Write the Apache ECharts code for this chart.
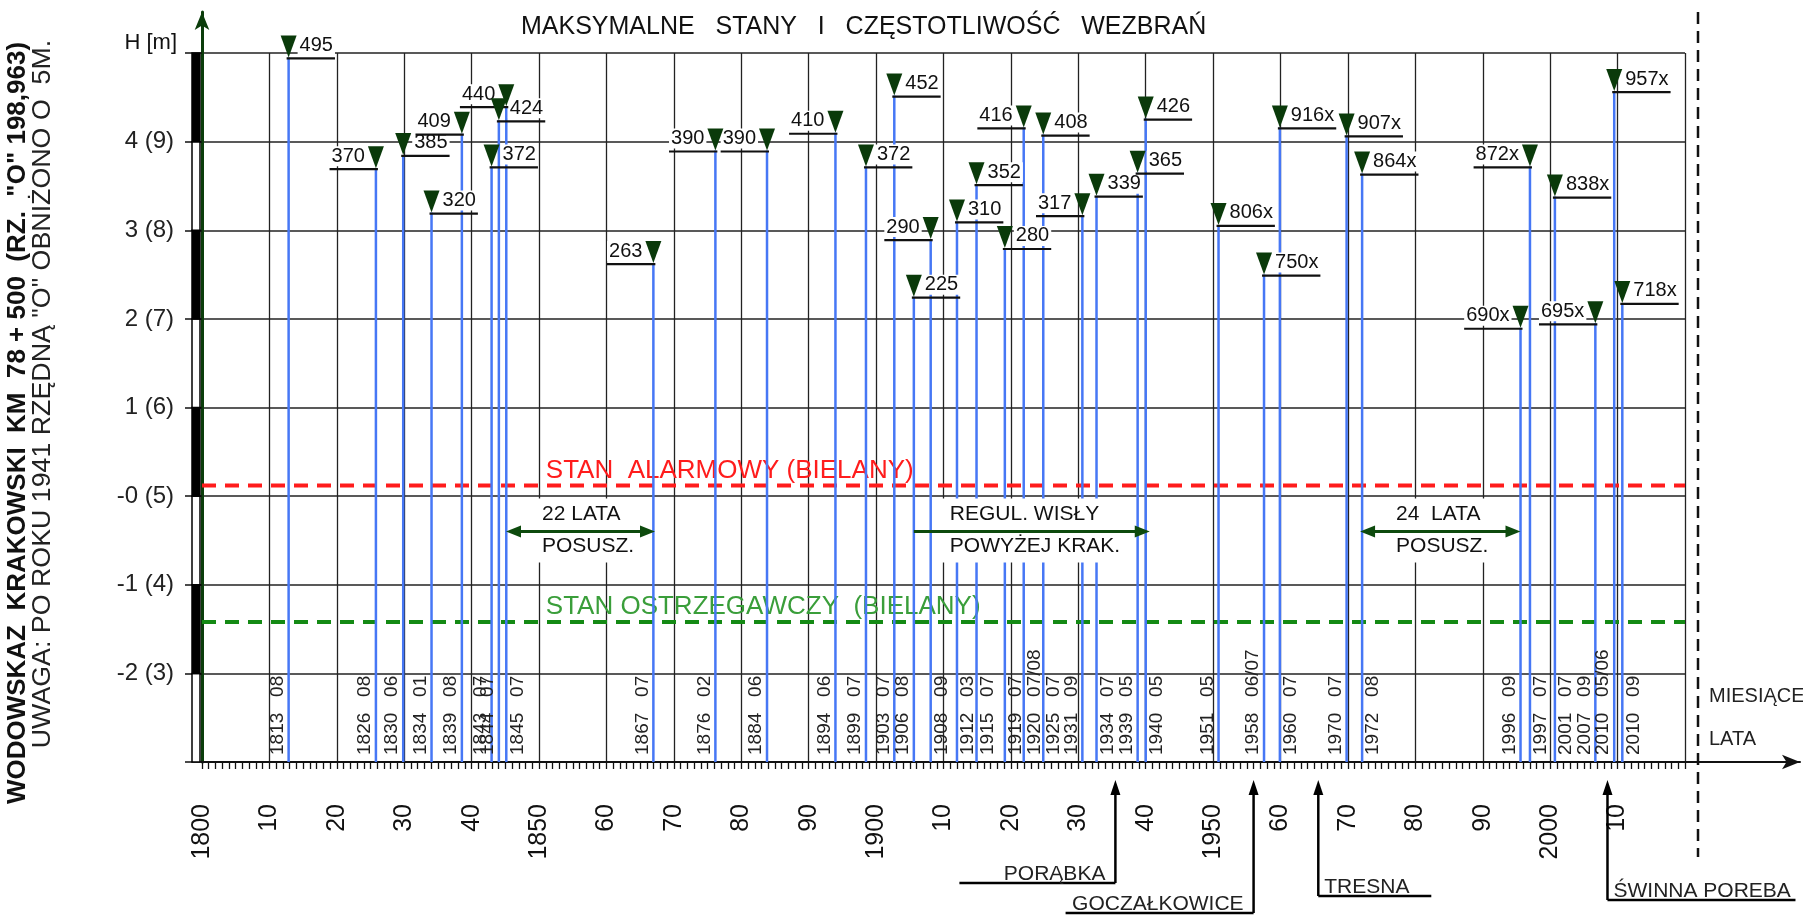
<!DOCTYPE html>
<html>
<head>
<meta charset="utf-8">
<title>Maksymalne stany i częstotliwość wezbrań</title>
<script src="https://cdn.jsdelivr.net/npm/echarts@6/dist/echarts.min.js"></script>
<style>
html, body { margin: 0; padding: 0; background: #fff; }
#chart { width: 1803px; height: 915px; }
</style>
</head>
<body>
<div id="chart"></div>
<script>
// wezbrania: rok, miesiac, stan na wodowskazie [cm]
const years = [1813, 1826, 1830, 1834, 1839, 1843, 1844, 1845, 1867, 1876, 1884, 1894, 1899, 1903, 1906, 1908, 1912, 1915,
  1919, 1920, 1925, 1931, 1934, 1939, 1940, 1951, 1958, 1960, 1970, 1972, 1996, 1997, 2001, 2007, 2010, 2010]
const months = ['08', '08', '06', '01', '08', '07', '07', '07', '07', '02', '06', '06', '07', '07', '08', '09', '03', '07',
  '07', '07/08', '07', '09', '07', '05', '05', '05', '06/07', '07', '07', '08', '09', '07', '07', '09', '05/06', '09']
const stanCm = [495, 370, 385, 320, 409, 372, 424, 440, 263, 390, 390, 410, 372, 452, 225, 290, 310, 352,
  280, 416, 408, 317, 339, 365, 426, 806, 750, 916, 907, 864, 690, 872, 838, 695, 957, 718]
// polozenie linii na osi lat
const linePos = [1812.85, 1825.8, 1829.85, 1834.05, 1838.55, 1842.96, 1844.04, 1845.14, 1866.96, 1876.16, 1883.82, 1893.97,
  1898.5, 1902.7, 1905.6, 1908.1, 1912.0, 1914.9, 1919.1, 1921.9, 1924.8, 1930.6, 1932.7, 1938.8, 1940.0, 1950.8,
  1957.55, 1959.9, 1969.8, 1972.1, 1995.6, 1997.0, 2000.7, 2006.7, 2009.5, 2010.7]
// po 1941 zero wodowskazu obnizono o 5 m
const zeroShiftYear = 1941
const zeroShiftCm = 500

// strona opisu: L - lewa, R - prawa
const valueSide = 'RLRRLRRLLLLLRRRLRRRLRLRRRRRRRRLLRLRR'
const dateSide = 'LLLLLLLRLLLLLLLRRRRRRLRLRLLRLRLRRLLR'

const alertLevels = [0.12, -1.42]
const alertNames = ['STAN  ALARMOWY (BIELANY)', 'STAN OSTRZEGAWCZY  (BIELANY)']
const alertColors = ['#ff1c1c', '#148a14']
const alertTextColors = ['#ff1c1c', '#3a9e3a']

const spanFrom = [1845.1, 1905.6, 1971.8]
const spanTo = [1867.2, 1940.6, 1995.6]
const spanLevel = -0.4
const spanTop = ['22 LATA', 'REGUL. WISŁY', '24  LATA']
const spanBottom = ['POSUSZ.', 'POWYŻEJ KRAK.', 'POSUSZ.']
const spanBothHeads = [true, false, true]

const damNames = ['PORĄBKA', 'GOCZAŁKOWICE', 'TRESNA', 'ŚWINNA POREBA']
const damYears = [1935.5, 1956.0, 1965.6, 2008.5]
// uklad strzalek zapor pod osia
const damDrop = [121, 151, 134, 138]
const damArm = [-156, -188, 113, 188]

const FONT = '"Liberation Sans", Arial, sans-serif'
const BLUE = '#4677f5'
const MARK = '#0a3a0a'

const measureCtx = document.createElement('canvas').getContext('2d')
function textWidth(s, font) {
  measureCtx.font = font
  return measureCtx.measureText(s).width
}
function levelOf(i) {
  return (stanCm[i] - (years[i] > zeroShiftYear ? zeroShiftCm : 0)) / 100
}
function valueLabel(i) {
  return stanCm[i] + (years[i] > zeroShiftYear ? 'x' : '')
}

const gaugeData = []
for (let v = -3; v < 5; v++) gaugeData.push([1800, v, v + 1])

function renderGauge(params, api) {
  const lo = api.coord([api.value(0), api.value(1)])
  const hi = api.coord([api.value(0), api.value(2)])
  const black = (api.value(1) + 3) % 2 === 1
  return {
    type: 'rect',
    shape: { x: lo[0] - 10, y: hi[1], width: 8, height: lo[1] - hi[1] },
    style: { fill: black ? '#000' : '#fff', stroke: '#000', lineWidth: 1.5 }
  }
}

function renderEvent(params, api) {
  const i = params.dataIndex
  const top = api.coord([api.value(0), api.value(1)])
  const base = api.coord([api.value(0), -3])
  const x = top[0]
  const y = top[1]
  const label = valueLabel(i)
  const font = '20px ' + FONT
  const w = textWidth(label, font)
  const right = valueSide[i] === 'R'
  const tx = right ? x + 9 : x - 9
  const ux1 = right ? x - 2 : x - 13 - w
  const ux2 = right ? x + 13 + w : x + 2
  const dx = dateSide[i] === 'R' ? 11 : -11
  return {
    type: 'group',
    children: [
      { type: 'line', z2: 1, shape: { x1: x, y1: base[1], x2: x, y2: y }, style: { stroke: BLUE, lineWidth: 2.5 } },
      {
        type: 'text', z2: 4, x: x + dx, y: base[1] - 7, rotation: Math.PI / 2,
        style: { text: years[i] + '   ' + months[i], font: '19px ' + FONT, fill: '#222', align: 'left', verticalAlign: 'middle' }
      },
      {
        type: 'text', z2: 5, x: tx, y: y - 2,
        style: { text: label, font: font, fill: '#111', align: right ? 'left' : 'right', verticalAlign: 'bottom',
          backgroundColor: '#fff', padding: [0, 2, 0, 2] }
      },
      { type: 'line', z2: 6, shape: { x1: ux1, y1: y + 1, x2: ux2, y2: y + 1 }, style: { stroke: '#111', lineWidth: 2.2 } },
      { type: 'polygon', z2: 7, shape: { points: [[x - 8, y - 22], [x + 8, y - 22], [x, y]] }, style: { fill: MARK } }
    ]
  }
}

function renderAlert(params, api) {
  const i = params.dataIndex
  const a = api.coord([1800, api.value(1)])
  const b = api.coord([2020, api.value(1)])
  const t = api.coord([1851, api.value(1)])
  return {
    type: 'group',
    children: [
      { type: 'line', shape: { x1: a[0], y1: a[1], x2: b[0], y2: b[1] },
        style: { stroke: alertColors[i], lineWidth: 4, lineDash: [14, 9] } },
      { type: 'text', x: t[0], y: t[1] - 15,
        style: { text: alertNames[i], font: '26px ' + FONT, fill: alertTextColors[i], align: 'left', verticalAlign: 'middle' } }
    ]
  }
}

function renderSpan(params, api) {
  const i = params.dataIndex
  const a = api.coord([api.value(0), api.value(1)])
  const b = api.coord([api.value(2), api.value(1)])
  const font = '21px ' + FONT
  const w = Math.max(textWidth(spanTop[i], font), textWidth(spanBottom[i], font))
  const col = '#0d4a0d'
  const children = [
    { type: 'rect', shape: { x: a[0] + 28, y: a[1] - 33, width: w + 16, height: 64 }, style: { fill: '#fff' } },
    { type: 'line', shape: { x1: a[0] + (spanBothHeads[i] ? 6 : 0), y1: a[1], x2: b[0] - 6, y2: b[1] },
      style: { stroke: col, lineWidth: 3 } },
    { type: 'polygon', shape: { points: [[b[0], b[1]], [b[0] - 15, b[1] - 6], [b[0] - 15, b[1] + 6]] }, style: { fill: col } },
    { type: 'text', x: a[0] + 36, y: a[1] - 17,
      style: { text: spanTop[i], font: font, fill: '#111', align: 'left', verticalAlign: 'middle' } },
    { type: 'text', x: a[0] + 36, y: a[1] + 15,
      style: { text: spanBottom[i], font: font, fill: '#111', align: 'left', verticalAlign: 'middle' } }
  ]
  if (spanBothHeads[i]) {
    children.push({ type: 'polygon', shape: { points: [[a[0], a[1]], [a[0] + 15, a[1] - 6], [a[0] + 15, a[1] + 6]] }, style: { fill: col } })
  }
  return { type: 'group', children: children }
}

function renderDam(params, api) {
  const i = params.dataIndex
  const p = api.coord([api.value(0), -3])
  const x = p[0]
  const tip = p[1] + 18
  const ly = p[1] + damDrop[i]
  const arm = damArm[i]
  const right = arm > 0
  return {
    type: 'group',
    children: [
      { type: 'polygon', shape: { points: [[x, tip], [x - 5, tip + 15], [x + 5, tip + 15]] }, style: { fill: '#000' } },
      { type: 'line', shape: { x1: x, y1: tip + 10, x2: x, y2: ly }, style: { stroke: '#000', lineWidth: 2.5 } },
      { type: 'line', shape: { x1: x, y1: ly, x2: x + arm, y2: ly }, style: { stroke: '#000', lineWidth: 2.5 } },
      { type: 'text', x: right ? x + 6 : x - 10, y: ly + 2,
        style: { text: damNames[i], font: '21px ' + FONT, fill: '#222', align: right ? 'left' : 'right', verticalAlign: 'bottom' } }
    ]
  }
}

const chart = echarts.init(document.getElementById('chart'))
chart.setOption({
  animation: false,
  backgroundColor: '#fff',
  textStyle: { fontFamily: FONT },
  title: {
    text: 'MAKSYMALNE   STANY   I   CZĘSTOTLIWOŚĆ   WEZBRAŃ',
    left: 516,
    top: 10,
    textStyle: { fontSize: 25, fontWeight: 'normal', color: '#111', fontFamily: FONT }
  },
  grid: [
    { left: 202, right: 118, top: 53, bottom: 153, outerBoundsMode: 'none' },
    { left: 202, right: 3, top: 12, bottom: 153, outerBoundsMode: 'none' }
  ],
  xAxis: [
    {
      type: 'value', gridIndex: 0, min: 1800, max: 2020, interval: 10,
      axisLine: { show: true, onZero: false, lineStyle: { color: '#111', width: 2 } },
      axisTick: { show: true, length: 7, lineStyle: { color: '#111', width: 1.3 } },
      minorTick: { show: true, splitNumber: 10, length: 7, lineStyle: { color: '#111', width: 1.3 } },
      splitLine: { show: true, lineStyle: { color: '#222', width: 1.3 } },
      axisLabel: {
        rotate: 90, margin: 42, fontSize: 25, color: '#111', fontFamily: FONT,
        formatter: v => v >= 2020 ? '' : (v % 50 === 0 ? String(v) : String(v % 100).padStart(2, '0'))
      }
    },
    {
      type: 'value', gridIndex: 1, min: 0, max: 1,
      axisLine: { show: true, onZero: false, symbol: ['none', 'arrow'], symbolSize: [11, 18], lineStyle: { color: '#111', width: 2 } },
      axisTick: { show: false }, axisLabel: { show: false }, splitLine: { show: false }
    }
  ],
  yAxis: [
    {
      type: 'value', gridIndex: 0, min: -3, max: 5, interval: 1,
      axisLine: { show: false, onZero: false },
      axisTick: { show: true, length: 17, lineStyle: { color: '#111', width: 1.5 } },
      splitLine: { show: true, lineStyle: { color: '#222', width: 1.5 } },
      axisLabel: {
        margin: 28, fontSize: 24, color: '#222', fontFamily: FONT,
        formatter: v => (v >= 5 || v <= -3) ? '' : (v === 0 ? '-0' : String(v)) + ' (' + (v + 5) + ')'
      }
    },
    {
      type: 'value', gridIndex: 1, min: 0, max: 1,
      axisLine: { show: true, onZero: false, symbol: ['none', 'arrow'], symbolSize: [11, 18], lineStyle: { color: '#0b3d0b', width: 3 } },
      axisTick: { show: false }, axisLabel: { show: false }, splitLine: { show: false }
    }
  ],
  series: [
    {
      type: 'custom', name: 'wodowskaz', coordinateSystem: 'cartesian2d', xAxisIndex: 0, yAxisIndex: 0,
      silent: true, z: 3, renderItem: renderGauge, data: gaugeData
    },
    {
      type: 'custom', name: 'stany alarmowe', coordinateSystem: 'cartesian2d', xAxisIndex: 0, yAxisIndex: 0,
      silent: true, z: 2, renderItem: renderAlert,
      data: alertLevels.map(lv => [1800, lv])
    },
    {
      type: 'custom', name: 'wezbrania', coordinateSystem: 'cartesian2d', xAxisIndex: 0, yAxisIndex: 0,
      silent: true, z: 3, clip: false, renderItem: renderEvent,
      data: linePos.map((p, i) => [p, levelOf(i)])
    },
    {
      type: 'custom', name: 'okresy', coordinateSystem: 'cartesian2d', xAxisIndex: 0, yAxisIndex: 0,
      silent: true, z: 4, renderItem: renderSpan,
      data: spanFrom.map((f, i) => [f, spanLevel, spanTo[i]])
    },
    {
      type: 'custom', name: 'zapory', coordinateSystem: 'cartesian2d', xAxisIndex: 0, yAxisIndex: 0,
      silent: true, z: 4, clip: false, renderItem: renderDam,
      data: damYears.map(y => [y, -3])
    }
  ],
  graphic: [
    {
      type: 'text', x: 18, y: 423, rotation: Math.PI / 2,
      style: { text: 'WODOWSKAZ  KRAKOWSKI  KM  78 + 500  (RZ.  "O" 198,963)', font: 'bold 26px ' + FONT,
        fill: '#111', align: 'center', verticalAlign: 'middle' }
    },
    {
      type: 'text', x: 43, y: 394, rotation: Math.PI / 2, scaleX: 1.03,
      style: { text: 'UWAGA: PO ROKU 1941 RZĘDNĄ "O" OBNIŻONO O  5M.', font: '26px ' + FONT,
        fill: '#222', align: 'center', verticalAlign: 'middle' }
    },
    {
      type: 'text', x: 177, y: 43,
      style: { text: 'H [m]', font: '22px ' + FONT, fill: '#111', align: 'right', verticalAlign: 'middle' }
    },
    {
      type: 'line', shape: { x1: 1698, y1: 12, x2: 1698, y2: 857 },
      style: { stroke: '#111', lineWidth: 2.5, lineDash: [12, 7] }
    },
    {
      type: 'text', x: 1709, y: 696,
      style: { text: 'MIESIĄCE', font: '20px ' + FONT, fill: '#222', align: 'left', verticalAlign: 'middle' }
    },
    {
      type: 'text', x: 1709, y: 739,
      style: { text: 'LATA', font: '20px ' + FONT, fill: '#222', align: 'left', verticalAlign: 'middle' }
    }
  ]
})
</script>
</body>
</html>
